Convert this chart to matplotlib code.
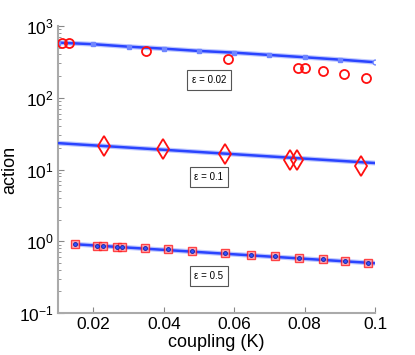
import numpy as np
import matplotlib.pyplot as plt
from matplotlib import ticker

plt.rcParams['font.family'] = ['Liberation Sans', 'DejaVu Sans']

# eps = 0.02
fit1_k = [0.01, 0.02, 0.03, 0.04, 0.05, 0.06, 0.07, 0.08, 0.09, 0.1]
fit1_a = [585, 556, 514, 482, 448, 424, 394, 366, 339, 312]
sim1_k = [0.011, 0.0132, 0.035, 0.0582, 0.0782, 0.080, 0.0853, 0.0912, 0.0975]
sim1_a = [575, 570, 448, 347, 259, 259, 236, 214, 188]

# eps = 0.1
fit2_k = [0.01, 0.1]
fit2_a = [23.3, 12.3]
sim2_k = [0.0231, 0.0398, 0.0573, 0.0757, 0.0777, 0.096]
sim2_a = [21.2, 19.3, 16.4, 13.5, 13.5, 11.1]

# eps = 0.5
sim3_k = [0.0149, 0.0211, 0.0228, 0.0268, 0.0282, 0.0347, 0.0412, 0.0480,
          0.0573, 0.0647, 0.0717, 0.0785, 0.0853, 0.0915, 0.0980]
sim3_a = [0.91, 0.865, 0.855, 0.835, 0.83, 0.80, 0.776, 0.728,
          0.682, 0.64, 0.62, 0.58, 0.562, 0.527, 0.50]
fit3_k = [0.0149, 0.1]
fit3_a = [0.91, 0.495]

labels = ['ε = 0.02', 'ε = 0.1', 'ε = 0.5']
label_pos = [(0.0528, 177), (0.0528, 7.8), (0.0528, 0.326)]

blue = '#2a44ff'
red = '#ff1010'

fig = plt.figure(figsize=(4.15, 3.55), dpi=100)
ax = fig.add_axes([0.140, 0.118, 0.764, 0.809])

# fitted lines (light halo + core)
for k, a in [(fit1_k, fit1_a), (fit2_k, fit2_a), (fit3_k, fit3_a)]:
    ax.plot(k, a, color='#8fa0ff', lw=3.5, alpha=0.6, zorder=2)
    ax.plot(k, a, color=blue, lw=1.8, zorder=3)

ax.plot(fit1_k[:-1], fit1_a[:-1], ls='none', marker='s', ms=3, color='#6f86ff', zorder=4)
ax.plot(fit1_k[-1:], fit1_a[-1:], ls='none', marker='o', ms=3.5, mfc='white',
        mec='#6f86ff', zorder=4)

ax.plot(sim1_k, sim1_a, ls='none', marker='o', ms=6.5, mfc='none', mec=red, mew=1.3, zorder=5)
ax.plot(sim2_k, sim2_a, ls='none', marker='d', ms=10, mfc='none', mec=red, mew=1.3, zorder=5)
ax.plot(sim3_k, sim3_a, ls='none', marker='s', ms=5.5, mfc='#ff9aa8', mec=red,
        mew=1.0, alpha=0.75, zorder=5)
ax.plot(sim3_k, sim3_a, ls='none', marker='o', ms=2.8, mfc='#3050ff', mec='#1020a0',
        mew=0.6, zorder=6)

for txt, (x, y) in zip(labels, label_pos):
    ax.text(x, y, txt, fontsize=7, ha='center', va='center', zorder=7,
            bbox=dict(boxstyle='square,pad=0.5', fc='white', ec='#555555', lw=0.8))

ax.set_yscale('log')
ax.set_xlim(0.01, 0.1)
ax.set_ylim(0.1, 1000)
ax.set_xticks([0.02, 0.04, 0.06, 0.08, 0.1])
ax.xaxis.set_major_formatter(ticker.FormatStrFormatter('%g'))
ax.yaxis.set_major_locator(ticker.LogLocator(base=10, numticks=10))
ax.yaxis.set_major_formatter(ticker.FuncFormatter(
    lambda v, p: r'$\mathregular{10^{%d}}$' % int(round(np.log10(v)))))

for s in ['top', 'right']:
    ax.spines[s].set_visible(False)
for s in ['left', 'bottom']:
    ax.spines[s].set_color('#aaaaaa')
    ax.spines[s].set_linewidth(1.5)

ax.tick_params(which='both', direction='in', color='#888888', labelsize=12.5, pad=3)
ax.tick_params(which='major', length=4)
ax.tick_params(which='minor', length=2)

ax.set_xlabel('coupling (K)', fontsize=13, labelpad=1)
ax.set_ylabel('action', fontsize=13, labelpad=1)

fig.savefig('out.png', dpi=100)
